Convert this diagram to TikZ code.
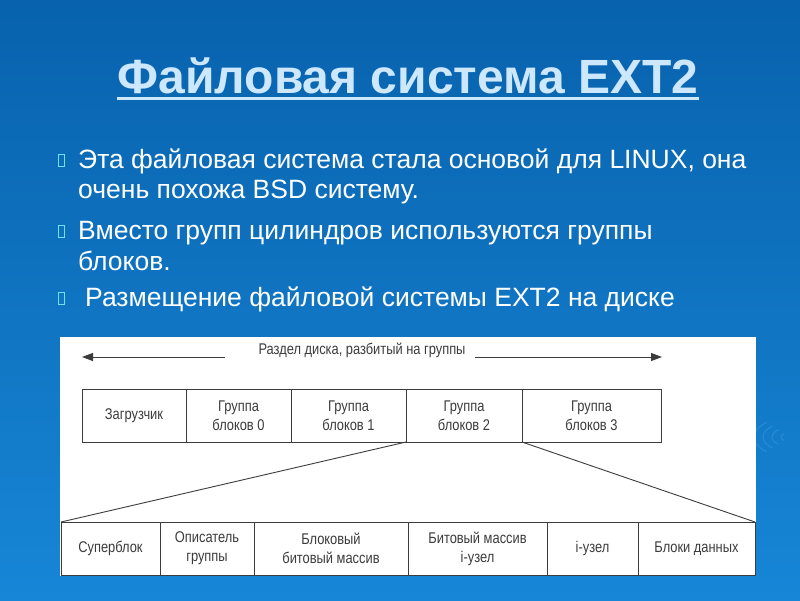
\documentclass[tikz,border=0pt]{standalone}
\usepackage{fontspec}
\setmainfont{Liberation Sans}
\newfontfamily\diagfont[FakeStretch=0.83]{Liberation Sans}
\usetikzlibrary{arrows.meta}
\definecolor{bgtop}{HTML}{0862AD}
\definecolor{bgbot}{HTML}{1786D6}
\definecolor{titlec}{HTML}{CDE8FC}
\definecolor{bulc}{HTML}{6FE3EA}
\definecolor{ink}{HTML}{3C3C3C}
\definecolor{swirl}{HTML}{3E9AE0}
\begin{document}
\begin{tikzpicture}[x=1pt,y=-1pt,
  txt/.style={text=white,font=\fontsize{26.5}{30}\selectfont,anchor=base west,inner sep=0pt},
  bul/.style={draw=bulc,line width=0.9pt,minimum width=6pt,minimum height=12pt,inner sep=0pt,anchor=south west},
  cell/.style={draw=ink,line width=0.9pt,anchor=north west,inner sep=0pt,outer sep=0pt,minimum height=53pt,
    align=center,text=ink,font=\diagfont\fontsize{15.5}{19}\selectfont},
  link/.style={draw=ink,line width=0.9pt}]
\useasboundingbox (0,0) rectangle (800,600);
\shade[top color=bgtop,bottom color=bgbot] (0,0) rectangle (800,600);
% watermark swirl
\foreach \r in {6,12,18,24}{
  \draw[swirl,opacity=0.45,line width=1.2pt] (790,437) ++(130:\r*1.5 and \r*0.8) arc[start angle=130,end angle=230,x radius=\r*1.5,y radius=\r*0.8];
}
% title
\node[text=titlec,font=\bfseries\fontsize{48}{54}\selectfont,inner sep=0pt,anchor=base] (title) at (408,93) {Файловая система EXT2};
\draw[titlec,line width=3pt] (title.base west |- 0,98) coordinate (ul1) -- (title.base east |- 0,98) coordinate (ul2);
% bullets
\node[bul] (b1) at (58,167) {};
\node[txt] (t1) at (78,168) {Эта файловая система стала основой для LINUX, она};
\node[txt] (t2) at (78,198) {очень похожа BSD систему.};
\node[bul] (b2) at (58,238) {};
\node[txt] (t3) at (78,239) {Вместо групп цилиндров используются группы};
\node[txt] (t4) at (78,270) {блоков.};
\node[bul] (b3) at (58,305) {};
\node[txt] (t5) at (85,306) {Размещение файловой системы EXT2 на диске};
% white panel
\fill[white] (60,337) rectangle (756,576);
% arrow with label
\node[text=ink,font=\diagfont\fontsize{15.5}{19}\selectfont,inner sep=0pt] (lbl) at (362,350) {Раздел диска, разбитый на группы};
\coordinate (aL) at (82,357);
\coordinate (aLe) at (225,357);
\coordinate (aRs) at (475,357);
\coordinate (aR) at (662,357);
\draw[link,-{Triangle[length=11pt,width=8pt]}] (aLe) -- (aL);
\draw[link,-{Triangle[length=11pt,width=8pt]}] (aRs) -- (aR);
% top row
\node[cell,minimum width=104pt] (boot) at (82,389) {Загрузчик};
\node[cell,minimum width=105pt] (g0) at (186,389) {Группа\\блоков 0};
\node[cell,minimum width=115pt] (g1) at (291,389) {Группа\\блоков 1};
\node[cell,minimum width=116pt] (g2) at (406,389) {Группа\\блоков 2};
\node[cell,minimum width=139pt] (g3) at (522,389) {Группа\\блоков 3};
% bottom row
\node[cell,minimum width=99pt] (s1) at (61,522) {Суперблок};
\node[cell,minimum width=94pt] (s2) at (160,522) {Описатель\\группы};
\node[cell,minimum width=154pt] (s3) at (254,522) {Блоковый\\битовый массив};
\node[cell,minimum width=139pt] (s4) at (408,522) {Битовый массив\\i-узел};
\node[cell,minimum width=91pt] (s5) at (547,522) {i-узел};
\node[cell,minimum width=117pt] (s6) at (638,522) {Блоки данных};
% expansion lines
\draw[link] (g2.south west) -- (s1.north west);
\draw[link] (g2.south east) -- (s6.north east);
\end{tikzpicture}
\end{document}
